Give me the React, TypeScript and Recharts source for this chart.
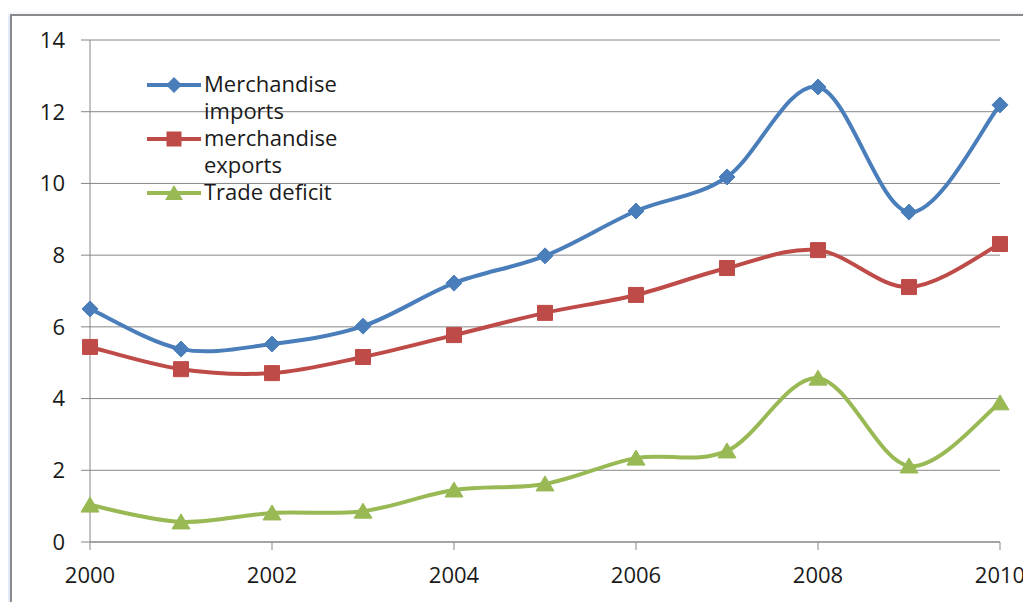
import { LineChart, Line, XAxis, YAxis, CartesianGrid } from "recharts";

const BLUE = "#4a7ebb";
const RED = "#be4b48";
const GREEN = "#98b954";
const AXIS = "#868686";
const FONT = "'Open Sans', Lato, sans-serif";

const years = [2000, 2001, 2002, 2003, 2004, 2005, 2006, 2007, 2008, 2009, 2010];
const imports = [6.5, 5.38, 5.52, 6.02, 7.22, 7.98, 9.23, 10.18, 12.69, 9.2, 12.19];
const exportsVals = [5.44, 4.82, 4.71, 5.16, 5.77, 6.39, 6.89, 7.64, 8.14, 7.11, 8.31];
const deficit = [1.03, 0.56, 0.81, 0.86, 1.45, 1.62, 2.34, 2.54, 4.57, 2.12, 3.88];
const xTicks = [2000, 2002, 2004, 2006, 2008, 2010];
const yTicks = [0, 2, 4, 6, 8, 10, 12, 14];

const data = years.map((year, i) => ({
  year,
  imports: imports[i],
  exports: exportsVals[i],
  deficit: deficit[i],
}));

// Excel-like smoothing: catmull-rom style bezier, control points at 1/6 of neighbour span
function excelCurve(context: any) {
  let pts: number[][] = [];
  return {
    areaStart() {},
    areaEnd() {},
    lineStart() {
      pts = [];
    },
    point(x: number, y: number) {
      pts.push([+x, +y]);
    },
    lineEnd() {
      if (!pts.length) return;
      context.moveTo(pts[0][0], pts[0][1]);
      for (let i = 0; i < pts.length - 1; i++) {
        const p0 = pts[i - 1] || pts[i];
        const p1 = pts[i];
        const p2 = pts[i + 1];
        const p3 = pts[i + 2] || p2;
        context.bezierCurveTo(
          p1[0] + (p2[0] - p0[0]) / 6,
          p1[1] + (p2[1] - p0[1]) / 6,
          p2[0] - (p3[0] - p1[0]) / 6,
          p2[1] - (p3[1] - p1[1]) / 6,
          p2[0],
          p2[1]
        );
      }
    },
  };
}

type Shape = "diamond" | "square" | "triangle";

function markerPath(shape: Shape, cx: number, cy: number) {
  if (shape === "diamond") return `M${cx},${cy - 8}L${cx + 8},${cy}L${cx},${cy + 8}L${cx - 8},${cy}Z`;
  if (shape === "square") return `M${cx - 7.5},${cy - 7.5}h15v15h-15Z`;
  return `M${cx},${cy - 8}L${cx + 9},${cy + 7}L${cx - 9},${cy + 7}Z`;
}

function makeDot(shape: Shape, color: string) {
  return (props: any) => {
    const { cx, cy, index } = props;
    if (cx == null || cy == null) return <g key={index} />;
    return <path key={index} d={markerPath(shape, cx, cy)} fill={color} stroke={color} strokeWidth={1} />;
  };
}

const series = [
  { key: "imports", label: "Merchandise imports", color: BLUE, shape: "diamond" as Shape, top: 70 },
  { key: "exports", label: "merchandise exports", color: RED, shape: "square" as Shape, top: 124 },
  { key: "deficit", label: "Trade deficit", color: GREEN, shape: "triangle" as Shape, top: 178 },
];

export default function App() {
  return (
    <div style={{ position: "relative", width: 1031, height: 610, margin: -8, overflow: "hidden", background: "#fff" }}>
      <div
        style={{
          position: "absolute",
          left: 10,
          top: 14,
          width: 1100,
          height: 700,
          border: "2px solid #8a8a8a",
          boxShadow: "-3px 0 4px rgba(120,150,220,0.25)",
        }}
      />
      <div style={{ position: "absolute", left: 0, top: 0 }}>
        <LineChart width={1031} height={610} data={data} margin={{ top: 40, right: 31, bottom: 0, left: 0 }}>
          <CartesianGrid vertical={false} stroke={AXIS} strokeWidth={1} />
          <XAxis
            dataKey="year"
            type="number"
            domain={[2000, 2010]}
            ticks={xTicks}
            height={68}
            stroke={AXIS}
            tickSize={8}
            tickMargin={17}
            tick={{ fill: "#1a1a1a", fontSize: 22, fontFamily: FONT }}
          />
          <YAxis
            domain={[0, 14]}
            ticks={yTicks}
            width={90}
            stroke={AXIS}
            tickSize={9}
            tickMargin={16}
            tick={{ fill: "#1a1a1a", fontSize: 22, fontFamily: FONT }}
          />
          {series.map((s) => (
            <Line
              key={s.key}
              dataKey={s.key}
              type={excelCurve as any}
              stroke={s.color}
              strokeWidth={4}
              dot={makeDot(s.shape, s.color)}
              activeDot={false}
              isAnimationActive={false}
            />
          ))}
        </LineChart>
      </div>
      {series.map((s) => (
        <div key={s.key} style={{ position: "absolute", left: 146, top: s.top, display: "flex", alignItems: "flex-start" }}>
          <svg width={56} height={28} style={{ flex: "none", marginTop: 1 }}>
            <line x1={1} y1={14} x2={55} y2={14} stroke={s.color} strokeWidth={4} />
            <path d={markerPath(s.shape, 28, 14)} fill={s.color} />
          </svg>
          <div
            style={{
              width: 150,
              marginLeft: 2,
              fontFamily: FONT,
              fontSize: 22,
              lineHeight: "27px",
              color: "#1a1a1a",
            }}
          >
            {s.label}
          </div>
        </div>
      ))}
    </div>
  );
}
